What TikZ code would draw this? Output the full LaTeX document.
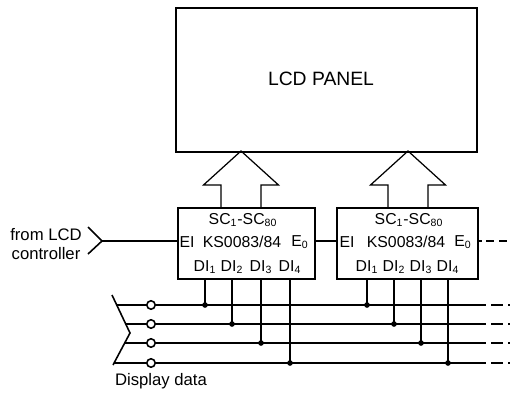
\documentclass[tikz,border=0pt]{standalone}
\usepackage{fontspec}
\setmainfont{Liberation Sans}
\begin{document}
\begin{tikzpicture}[x=0.02cm,y=-0.02cm,
  box/.style={draw,line width=1.3pt,inner sep=0pt,anchor=north west},
  lbl/.style={inner sep=0pt,font=\fontsize{9}{10.5}\selectfont},
  hollow/.style={draw,line width=0.7pt,line join=miter},
  bus/.style={line width=0.9pt},
  ring/.style={circle,draw,fill=white,line width=0.9pt,inner sep=0pt,minimum size=4.8pt},
  dot/.style={circle,fill,inner sep=0pt,minimum size=3.2pt}]
\useasboundingbox (0,0) rectangle (510,392);
% panel
\node[box,minimum width=6.02cm,minimum height=2.88cm] (panel) at (175,7) {};
\node[lbl,font=\fontsize{11}{13}\selectfont] (title) at (321,79) {LCD PANEL};
% driver chips
\node[box,minimum width=2.74cm,minimum height=1.42cm] (drvA) at (177,207) {};
\node[box,minimum width=2.82cm,minimum height=1.42cm] (drvB) at (336,207) {};
\node[lbl] (scA) at (243,220) {SC\textsubscript{1}-SC\textsubscript{80}};
\node[lbl] (eiA) at (187,242) {EI};
\node[lbl] (ksA) at (242,242) {KS0083/84};
\node[lbl] (eoA) at (300,242) {E\textsubscript{0}};
\node[lbl] (scB) at (409,220) {SC\textsubscript{1}-SC\textsubscript{80}};
\node[lbl] (eiB) at (347,242) {EI};
\node[lbl] (ksB) at (406,242) {KS0083/84};
\node[lbl] (eoB) at (463,242) {E\textsubscript{0}};
\foreach \i/\x in {1/205,2/232,3/261,4/290} \node[lbl] (a\i) at (\x,267) {DI\textsubscript{\i}};
\foreach \i/\x in {1/367,2/394,3/421,4/448} \node[lbl] (b\i) at (\x,267) {DI\textsubscript{\i}};
% outputs to the panel
\foreach \c in {241,408}
  \draw[hollow] ({\c-20},207) -- ({\c-20},185) -- ({\c-37.5},185) -- (\c,151)
    -- ({\c+37.5},185) -- ({\c+20},185) -- ({\c+20},207);
% enable chain
\node[lbl,font=\fontsize{9.5}{10.5}\selectfont,align=center] (src) at (46,244) {from LCD\\controller};
\coordinate (inpt) at (102,241);
\draw[bus] (88,227) -- (inpt) -- (88,254);
\draw[line width=1pt] (inpt) -- (inpt -| drvA.west);
\draw[line width=1pt] (drvA.east |- inpt) -- (drvB.west |- inpt);
\draw[line width=1pt] (drvB.east |- inpt) -- (482,241);
\draw[line width=1pt,dash pattern=on 0.16cm off 0.1cm] (486,241) -- (510,241);
% data bus
\draw[bus] (112,295) -- (130,333) -- (113,365);
\foreach \i/\y/\s in {1/305/116.7,2/324/125.7,3/343/124.7,4/363/114}{
  \coordinate (bus\i) at (\s,\y);
  \draw[bus] (bus\i) -- (486,\y);
  \draw[bus,dash pattern=on 0.24cm off 0.1cm] (491,\y) -- (510,\y);
  \node[ring] (in\i) at (151,\y) {};
}
\foreach \i in {1,...,4}{
  \draw[bus] (a\i |- drvA.south) -- (a\i |- bus\i) node[dot]{};
  \draw[bus] (b\i |- drvB.south) -- (b\i |- bus\i) node[dot]{};
}
\node[lbl,font=\fontsize{9.5}{10.5}\selectfont] (bustext) at (161,381) {Display data};
\end{tikzpicture}
\end{document}
